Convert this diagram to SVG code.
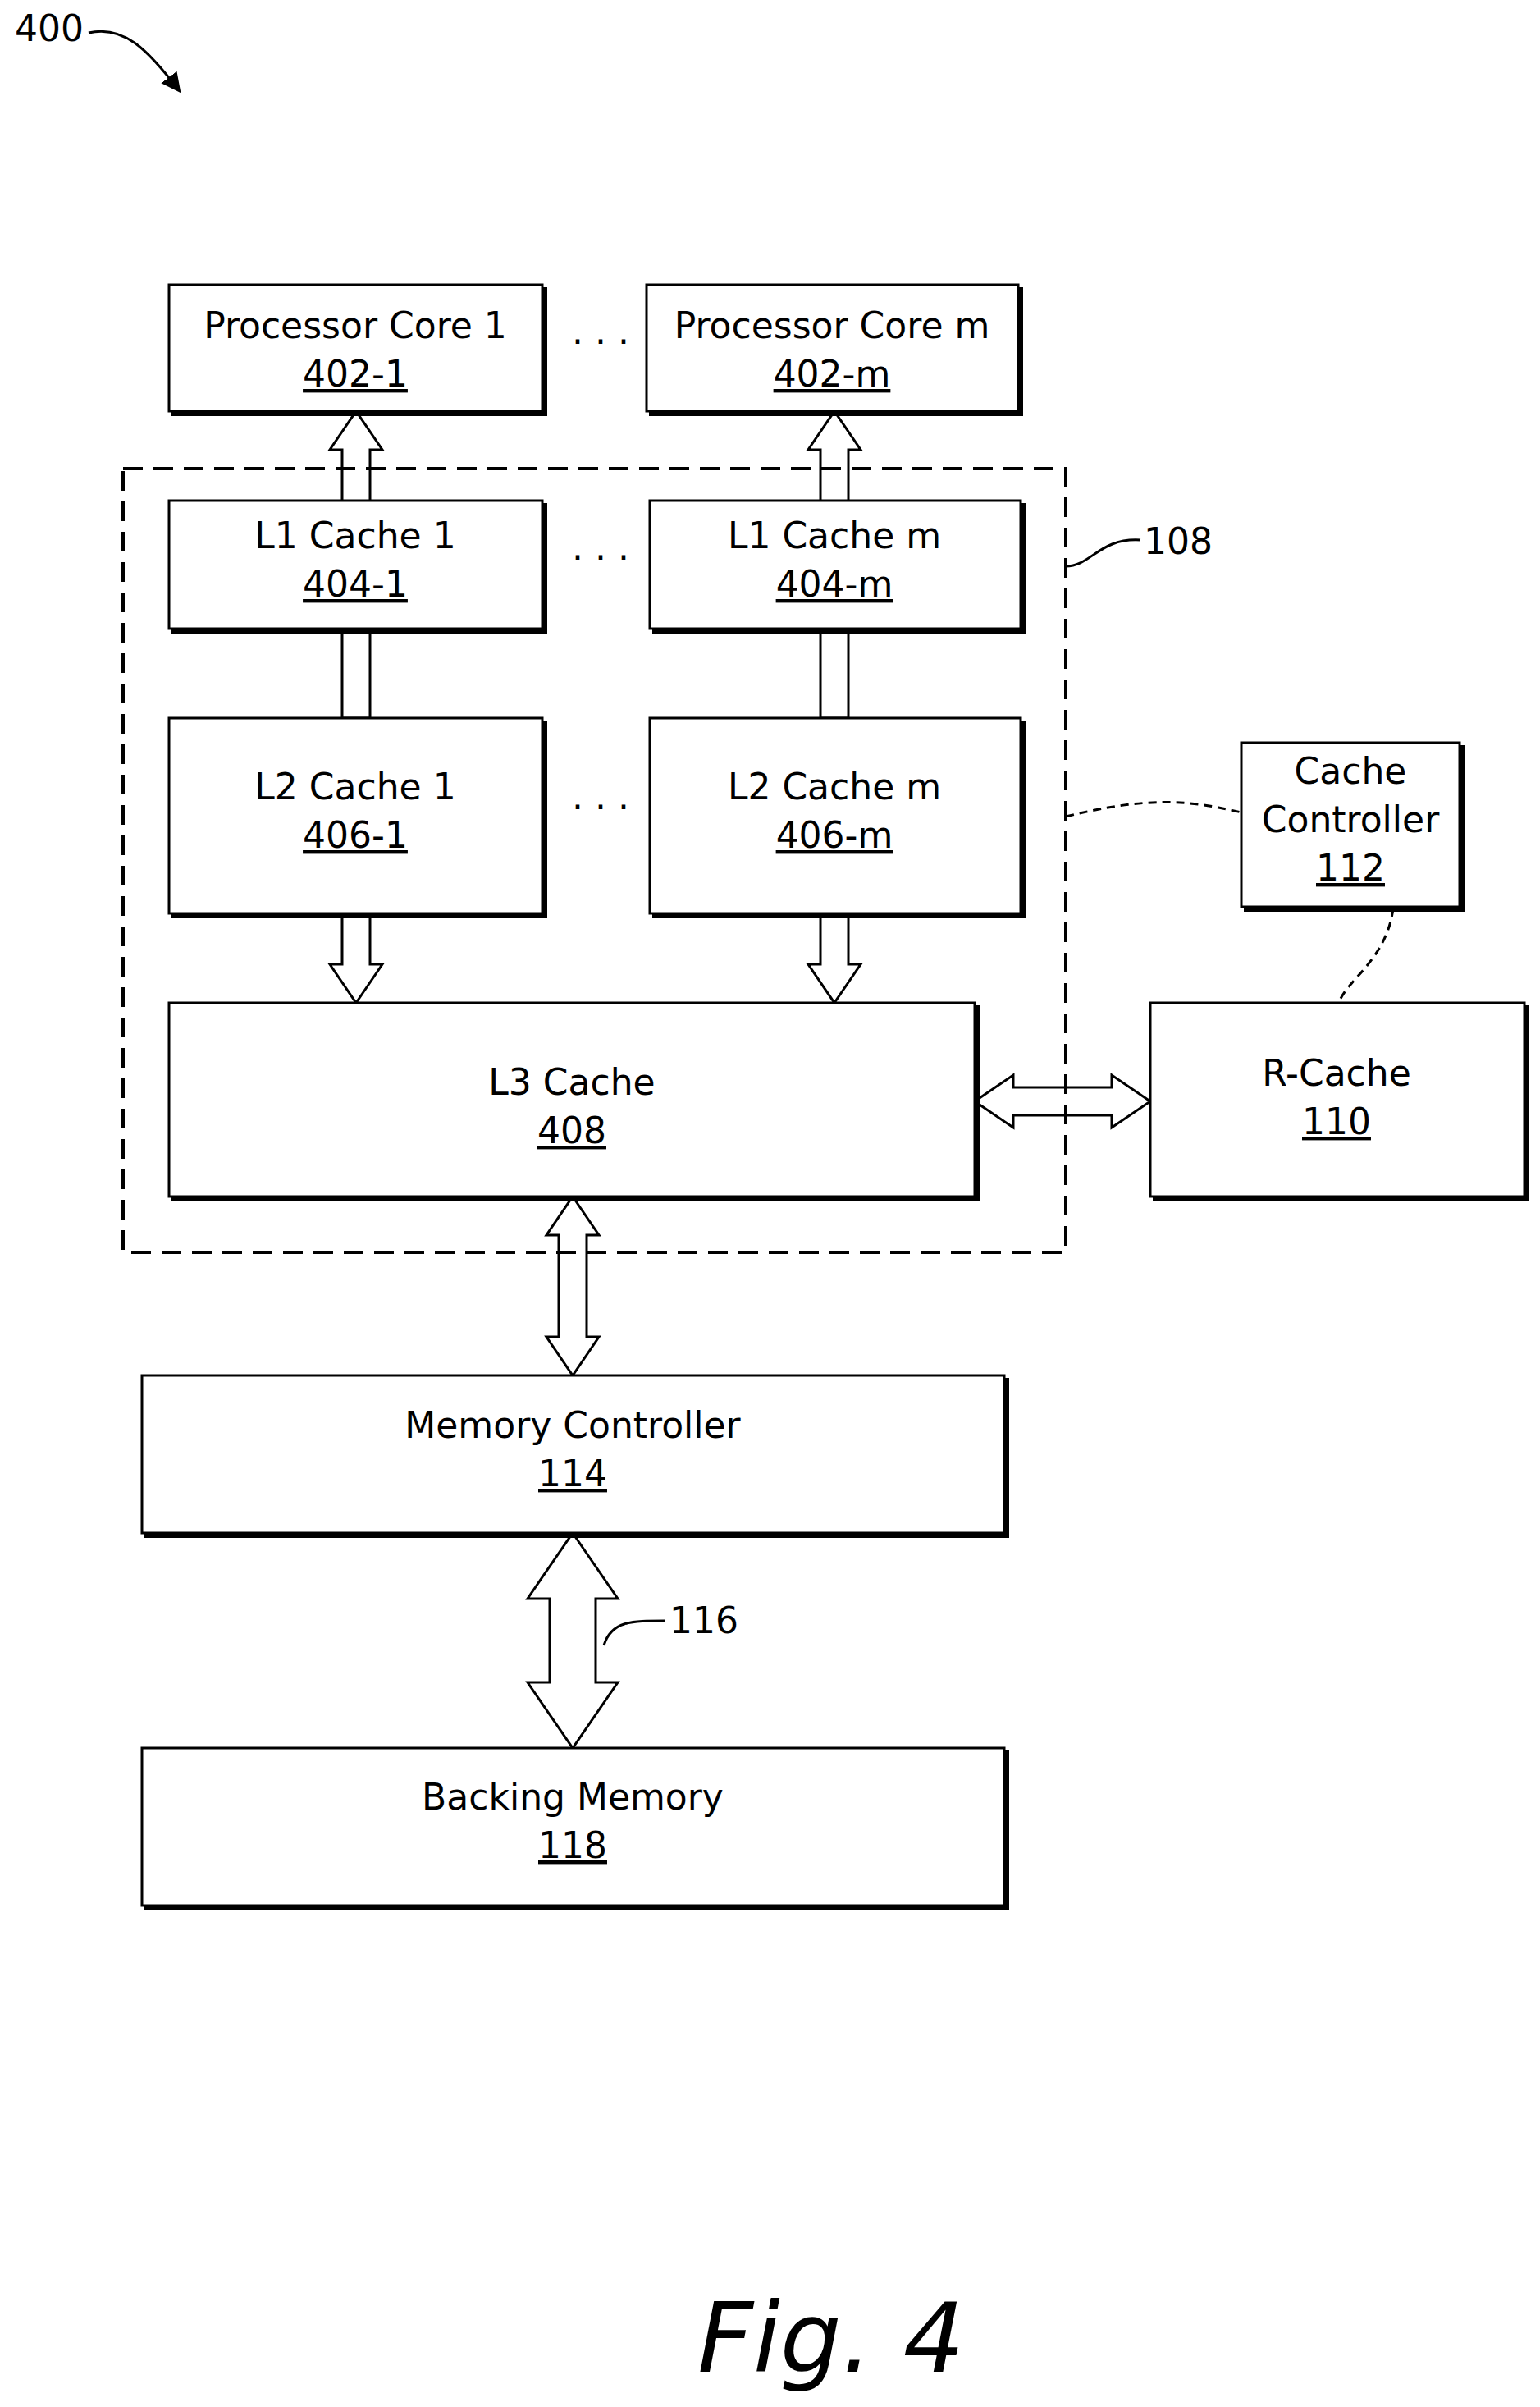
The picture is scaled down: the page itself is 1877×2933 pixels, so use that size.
<svg xmlns="http://www.w3.org/2000/svg" width="1877" height="2933" viewBox="0 0 1877 2933">
<style>
.b{fill:#fff;stroke:#000;stroke-width:3}
.sh{fill:none;stroke:#000;stroke-width:6}
.t{font-family:"DejaVu Sans",sans-serif;font-size:44px;text-anchor:middle;fill:#000}
.u{text-decoration:underline}
.a{fill:#fff;stroke:#000;stroke-width:3;stroke-linejoin:miter}
.d{fill:none;stroke:#000;stroke-width:3;stroke-dasharray:10 7}
.db{fill:none;stroke:#000;stroke-width:4;stroke-dasharray:24 13}
.l{fill:none;stroke:#000;stroke-width:3}
</style>
<defs><marker id="ah2" markerWidth="24" markerHeight="24" refX="20" refY="12" orient="auto" markerUnits="userSpaceOnUse"><path d="M0,0 L24,12 L0,24 Z" fill="#000"/></marker></defs>
<text x="60" y="50" class="t" style="font-size:44px">400</text>
<path d="M108,40 C150,30 180,60 218,110" class="l" marker-end="url(#ah2)"/>
<g id="connectors">
<polygon class="a" points="434,501 466,548 451,548 451,875 417,875 417,548 402,548"/>
<polygon class="a" points="1017,501 1049,548 1034,548 1034,875 1000,875 1000,548 985,548"/>
<polygon class="a" points="434,1222 466,1175 451,1175 451,1113 417,1113 417,1175 402,1175"/>
<polygon class="a" points="1017,1222 1049,1175 1034,1175 1034,1113 1000,1113 1000,1175 985,1175"/>
<polygon class="a" points="1188,1342 1235,1310 1235,1325 1355,1325 1355,1310 1402,1342 1355,1374 1355,1359 1235,1359 1235,1374"/>
<polygon class="a" points="698,1458 730,1505 715,1505 715,1629 730,1629 698,1676 666,1629 681,1629 681,1505 666,1505"/>
<polygon class="a" points="698,1868 753,1948 726,1948 726,2050 753,2050 698,2130 643,2050 670,2050 670,1948 643,1948"/>
<path class="d" d="M1299,995 C1400,970 1450,975 1513,990"/>
<path class="d" d="M1698,1107 C1690,1170 1640,1195 1632,1222"/>
<path class="l" d="M1299,700 L1299,690 C1330,690 1340,655 1390,658"/>
<path class="l" d="M736,2005 C745,1975 770,1975 810,1975"/>
</g>
<rect id="g108" class="db" x="150" y="571" width="1149" height="955"/>
<text x="1436" y="675" class="t">108</text>
<text x="858" y="1990" class="t">116</text>
<g id="core1"><rect class="b" x="206" y="347" width="455" height="154"/><path class="sh" d="M664,350 V504 H209"/><text class="t" x="433" y="412">Processor Core 1</text><text class="t u" x="433" y="471">402-1</text></g>
<g id="corem"><rect class="b" x="788" y="347" width="453" height="154"/><path class="sh" d="M1244,350 V504 H791"/><text class="t" x="1014" y="412">Processor Core m</text><text class="t u" x="1014" y="471">402-m</text></g>
<g id="l1a"><rect class="b" x="206" y="610" width="455" height="156"/><path class="sh" d="M664,613 V769 H209"/><text class="t" x="433" y="668">L1 Cache 1</text><text class="t u" x="433" y="727">404-1</text></g>
<g id="l1m"><rect class="b" x="792" y="610" width="452" height="156"/><path class="sh" d="M1247,613 V769 H795"/><text class="t" x="1017" y="668">L1 Cache m</text><text class="t u" x="1017" y="727">404-m</text></g>
<g id="l2a"><rect class="b" x="206" y="875" width="455" height="238"/><path class="sh" d="M664,878 V1116 H209"/><text class="t" x="433" y="974">L2 Cache 1</text><text class="t u" x="433" y="1033">406-1</text></g>
<g id="l2m"><rect class="b" x="792" y="875" width="452" height="238"/><path class="sh" d="M1247,878 V1116 H795"/><text class="t" x="1017" y="974">L2 Cache m</text><text class="t u" x="1017" y="1033">406-m</text></g>
<text class="t" x="732" y="432">·  ·  ·</text>
<text class="t" x="732" y="695">·  ·  ·</text>
<text class="t" x="732" y="999">·  ·  ·</text>
<g id="l3"><rect class="b" x="206" y="1222" width="982" height="236"/><path class="sh" d="M1191,1225 V1461 H209"/><text class="t" x="697" y="1334">L3 Cache</text><text class="t u" x="697" y="1393">408</text></g>
<g id="rcache"><rect class="b" x="1402" y="1222" width="456" height="236"/><path class="sh" d="M1861,1225 V1461 H1405"/><text class="t" x="1629" y="1323">R-Cache</text><text class="t u" x="1629" y="1382">110</text></g>
<g id="cc"><rect class="b" x="1513" y="905" width="266" height="200"/><path class="sh" d="M1782,908 V1108 H1516"/><text class="t" x="1646" y="955">Cache</text><text class="t" x="1646" y="1014">Controller</text><text class="t u" x="1646" y="1073">112</text></g>
<g id="mc"><rect class="b" x="173" y="1676" width="1051" height="192"/><path class="sh" d="M1227,1679 V1871 H176"/><text class="t" x="698" y="1752">Memory Controller</text><text class="t u" x="698" y="1811">114</text></g>
<g id="bm"><rect class="b" x="173" y="2130" width="1051" height="192"/><path class="sh" d="M1227,2133 V2325 H176"/><text class="t" x="698" y="2205">Backing Memory</text><text class="t u" x="698" y="2264">118</text></g>
<text x="1013" y="2890" style="font-family:'DejaVu Sans',sans-serif;font-size:118px;font-style:italic;text-anchor:middle">Fig. 4</text>
</svg>
